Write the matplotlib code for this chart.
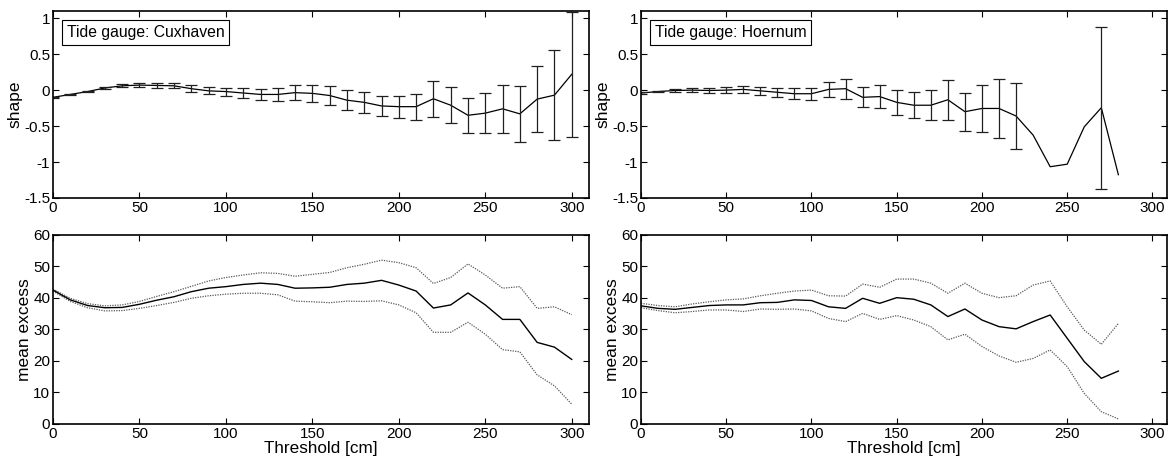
import numpy as np
import matplotlib.pyplot as plt

plt.rcParams['font.family'] = ['Liberation Sans', 'DejaVu Sans']

# thresholds [cm]
cux_x = np.arange(0, 301, 10)
hoe_x = np.arange(0, 281, 10)

# shape parameter with error half-widths
cux_shape = [-0.10, -0.06, -0.02, 0.03, 0.06, 0.07, 0.065, 0.06, 0.02, -0.01,
             -0.02, -0.04, -0.06, -0.06, -0.035, -0.045, -0.075, -0.14, -0.17, -0.22,
             -0.23, -0.23, -0.12, -0.21, -0.35, -0.32, -0.26, -0.33, -0.125, -0.07, 0.22]
cux_shape_err = [0.01, 0.01, 0.01, 0.015, 0.02, 0.025, 0.03, 0.035, 0.045, 0.05,
                 0.055, 0.065, 0.075, 0.085, 0.10, 0.115, 0.13, 0.14, 0.145, 0.145,
                 0.155, 0.18, 0.25, 0.25, 0.245, 0.28, 0.33, 0.385, 0.455, 0.63, 0.87]

hoe_shape = [-0.04, -0.02, -0.005, 0.0, -0.005, 0.0, 0.01, -0.01, -0.03, -0.05,
             -0.05, 0.01, 0.02, -0.10, -0.09, -0.17, -0.21, -0.21, -0.134, -0.30,
             -0.255, -0.255, -0.36, -0.625, -1.065, -1.03, -0.51, -0.245, -1.176]
nan = np.nan
hoe_shape_err = [0.02, 0.01, 0.015, 0.03, 0.03, 0.045, 0.05, 0.06, 0.065, 0.075,
                 0.085, 0.105, 0.14, 0.14, 0.16, 0.17, 0.18, 0.21, 0.28, 0.265,
                 0.325, 0.41, 0.465, nan, nan, nan, nan, 1.125, nan]

# mean excess with confidence bounds
cux_me = [42.5, 39.4, 37.6, 36.9, 37.0, 38.0, 39.3, 40.4, 42.0, 43.1,
          43.6, 44.3, 44.7, 44.3, 43.1, 43.2, 43.4, 44.3, 44.7, 45.6,
          44.1, 42.2, 36.8, 37.8, 41.6, 37.8, 33.2, 33.2, 25.9, 24.4, 20.5]
cux_me_hi = [42.8, 39.9, 38.2, 37.5, 37.8, 38.9, 40.5, 42.0, 43.7, 45.4,
             46.5, 47.3, 48.0, 47.8, 46.9, 47.5, 48.1, 49.6, 50.7, 52.0,
             51.2, 49.6, 44.6, 46.5, 50.8, 47.3, 43.1, 43.6, 36.7, 37.2, 34.7]
cux_me_lo = [42.2, 38.9, 36.9, 35.9, 36.0, 36.7, 37.6, 38.6, 39.9, 40.7,
             41.2, 41.5, 41.5, 41.0, 39.0, 38.8, 38.5, 39.0, 38.9, 39.1,
             37.8, 35.3, 29.1, 29.1, 32.3, 28.5, 23.6, 22.9, 15.6, 12.1, 6.3]

hoe_me = [37.5, 36.7, 36.4, 37.0, 37.6, 37.8, 37.8, 38.5, 38.6, 39.4,
          39.2, 37.2, 36.7, 39.9, 38.3, 40.1, 39.6, 37.8, 34.1, 36.5,
          33.0, 30.9, 30.2, 32.5, 34.6, 27.2, 19.8, 14.5, 16.8]
hoe_me_hi = [38.3, 37.6, 37.2, 38.1, 38.8, 39.4, 39.7, 40.7, 41.5, 42.2,
             42.5, 40.7, 40.6, 44.4, 43.4, 46.0, 46.0, 44.7, 41.5, 44.7,
             41.5, 40.1, 40.7, 44.1, 45.4, 37.2, 29.8, 25.3, 31.9]
hoe_me_lo = [36.9, 36.0, 35.3, 35.7, 36.2, 36.2, 35.7, 36.5, 36.4, 36.5,
             35.9, 33.5, 32.5, 35.1, 33.2, 34.4, 33.0, 30.9, 26.7, 28.5,
             24.6, 21.6, 19.6, 20.8, 23.5, 18.2, 9.7, 3.9, 1.6]


def style(ax, xmax):
    ax.set_xlim(0, xmax)
    ax.set_xticks(np.arange(0, 301, 50))
    ax.tick_params(direction='in', top=True, right=True, length=4.5,
                   labelsize=11, width=0.8, pad=2)
    for s in ax.spines.values():
        s.set_linewidth(1.2)


def shape_panel(ax, x, y, err, name, xmax):
    x = np.asarray(x)
    y = np.asarray(y)
    err = np.asarray(err)
    ax.plot(x, y, color='black', lw=0.9)
    m = ~np.isnan(err)
    ax.errorbar(x[m], y[m], yerr=err[m], fmt='none', ecolor='#202020',
                elinewidth=0.9, capsize=4.5, capthick=0.9)
    ax.set_ylim(-1.5, 1.1)
    ax.set_yticks([-1.5, -1, -0.5, 0, 0.5, 1])
    ax.set_yticklabels(['-1.5', '-1', '-0.5', '0', '0.5', '1'])
    ax.set_ylabel('shape', fontsize=12.5, labelpad=1)
    ax.text(0.026, 0.885, 'Tide gauge: ' + name, transform=ax.transAxes,
            fontsize=11.3, va='center', ha='left',
            bbox=dict(boxstyle='square,pad=0.3', fc='white', ec='black', lw=0.8))
    style(ax, xmax)


def me_panel(ax, x, me, hi, lo, xmax):
    ax.plot(x, hi, color='0.35', lw=0.9, ls=(0, (1, 1)))
    ax.plot(x, lo, color='0.35', lw=0.9, ls=(0, (1, 1)))
    ax.plot(x, me, color='black', lw=1.0)
    ax.set_ylim(0, 60)
    ax.set_yticks(np.arange(0, 61, 10))
    ax.set_ylabel('mean excess', fontsize=12.5, labelpad=1)
    ax.set_xlabel('Threshold [cm]', fontsize=12.3, labelpad=0)
    style(ax, xmax)


def main():
    fig = plt.figure(figsize=(11.68, 4.61), dpi=100)
    ax1 = fig.add_axes([0.0454, 0.5705, 0.4589, 0.4056])
    ax2 = fig.add_axes([0.5488, 0.5705, 0.4503, 0.4056])
    ax3 = fig.add_axes([0.0454, 0.0803, 0.4589, 0.4100])
    ax4 = fig.add_axes([0.5488, 0.0803, 0.4503, 0.4100])

    shape_panel(ax1, cux_x, cux_shape, cux_shape_err, 'Cuxhaven', 310)
    shape_panel(ax2, hoe_x, hoe_shape, hoe_shape_err, 'Hoernum', 308.5)
    me_panel(ax3, cux_x, cux_me, cux_me_hi, cux_me_lo, 310)
    me_panel(ax4, hoe_x, hoe_me, hoe_me_hi, hoe_me_lo, 308.5)

    fig.savefig('out.png', dpi=100)


if __name__ == "__main__":
    main()
